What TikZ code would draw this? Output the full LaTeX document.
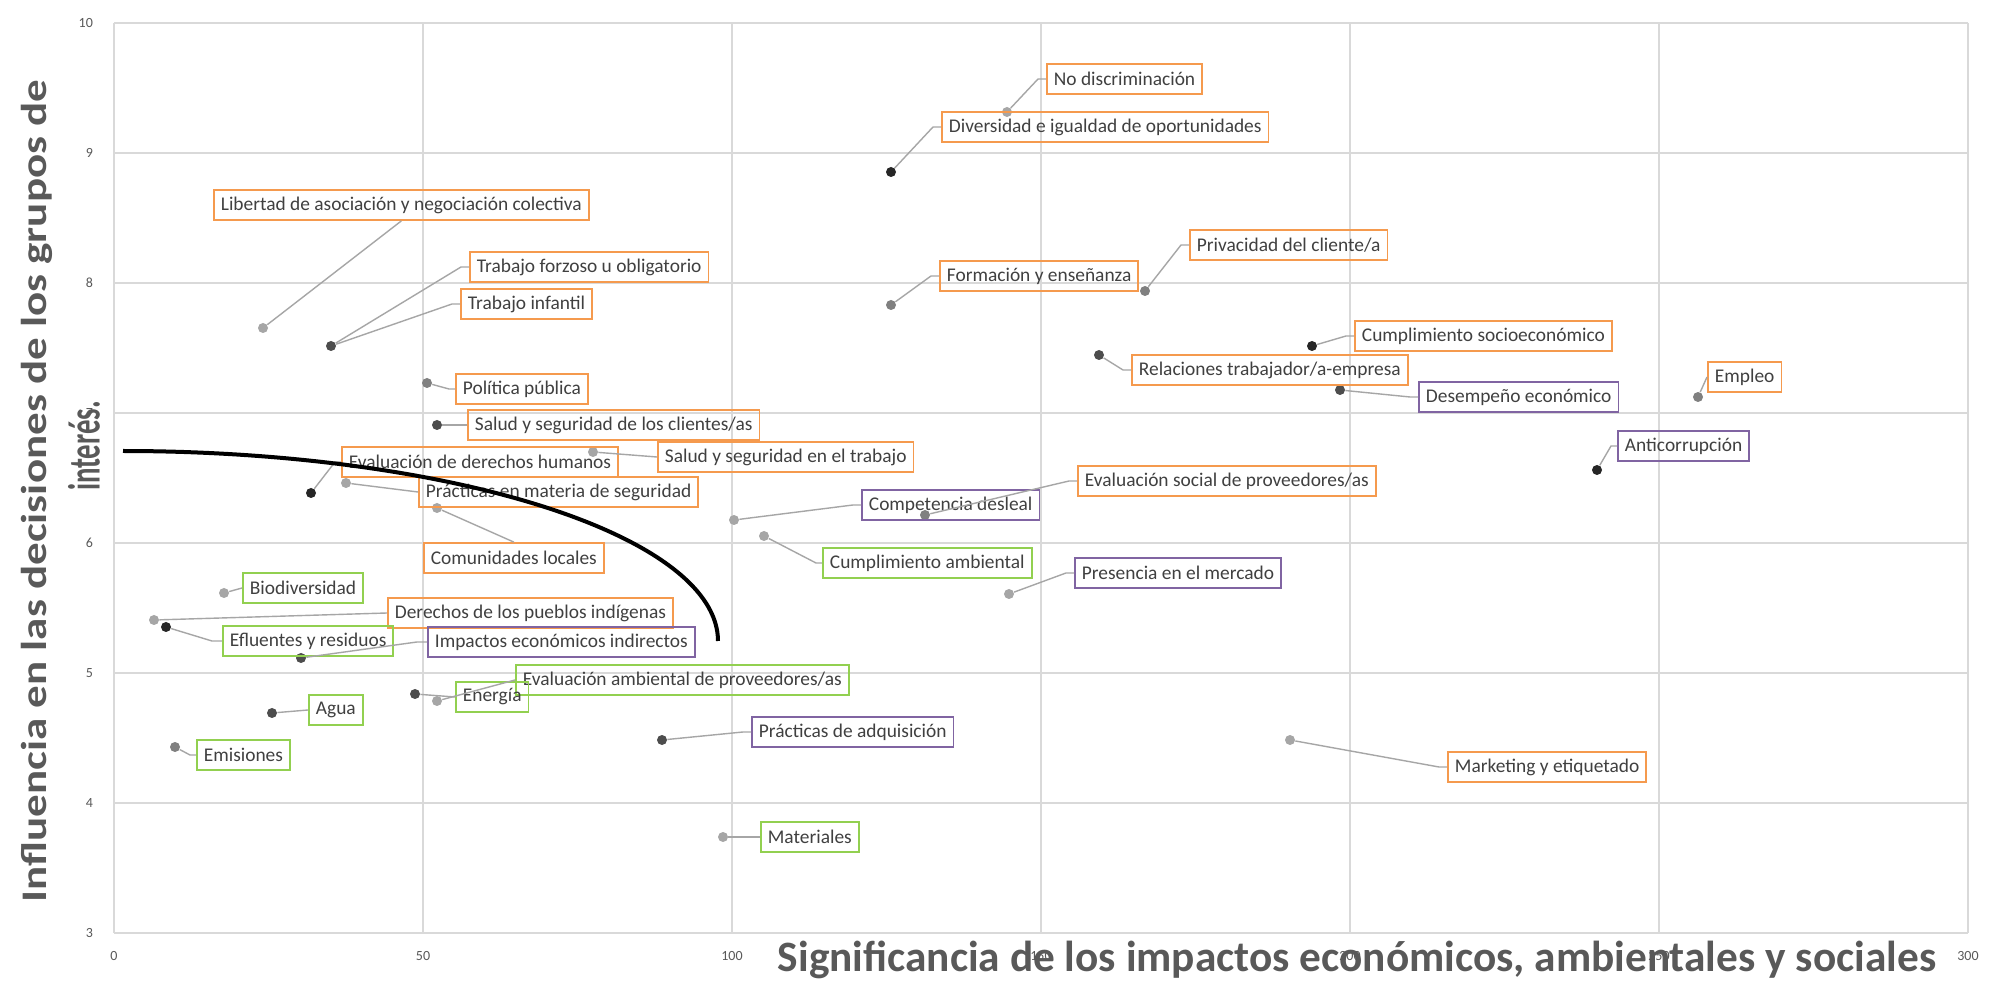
\documentclass[tikz,border=0pt]{standalone}
\usepackage{fontspec}
\setmainfont{Carlito}
\definecolor{lorange}{HTML}{F59A4E}
\definecolor{lgreen}{HTML}{92D050}
\definecolor{lpurple}{HTML}{8064A2}
\definecolor{gridgray}{HTML}{D9D9D9}
\definecolor{leadgray}{HTML}{A6A6A6}
\definecolor{labtext}{HTML}{404040}
\definecolor{titlegray}{HTML}{595959}
\definecolor{dblack}{HTML}{262626}
\definecolor{dgray}{HTML}{4D4D4D}
\definecolor{mgray}{HTML}{808080}
\definecolor{lgray}{HTML}{A6A6A6}
\begin{document}
\begin{tikzpicture}[x=0.5pt,y=-0.5pt,
  gridline/.style={draw=gridgray, line width=0.8pt},
  leader/.style={draw=leadgray, line width=0.7pt},
  lab/.style={anchor=west, draw, line width=0.9pt, font=\fontsize{9.7}{10}\selectfont, text=labtext, inner xsep=3.5pt, inner ysep=0pt, minimum height=15pt},
  org/.style={lab, draw=lorange},
  grn/.style={lab, draw=lgreen},
  pur/.style={lab, draw=lpurple},
  dot/.style={circle, inner sep=0pt, minimum size=5pt},
  tick/.style={font=\fontsize{7}{8}\selectfont, text=titlegray},
  axtitle/.style={font=\fontsize{18}{20}\selectfont\bfseries, text=titlegray}
]
\fill[white] (0,0) rectangle (1991,979);
% grid
\foreach \i in {0,...,6} \draw[gridline] ({114+309*\i},23) -- ({114+309*\i},933);
\foreach \j in {0,...,7} \draw[gridline] (114,{23+130*\j}) -- (1968,{23+130*\j});
% tick labels
\foreach \v [count=\j from 0] in {10,9,8,7,6,5,4,3}
  \node[tick, anchor=east] (yt\v) at (100,{23+130*\j}) {\v};
\foreach \v in {0,50,100,150,200,250,300}
  \node[tick] (xt\v) at ({114+6.18*\v},956) {\v};
% points
\node[dot, fill=lgray]  (p1)  at (1007,112) {};
\node[dot, fill=dblack] (p2)  at (891,172) {};
\node[dot, fill=mgray]  (p3)  at (891,305) {};
\node[dot, fill=mgray]  (p4)  at (1145,291) {};
\node[dot, fill=dblack] (p5)  at (1312,346) {};
\node[dot, fill=dgray]  (p6)  at (1099,355) {};
\node[dot, fill=dgray]  (p7)  at (1340,390) {};
\node[dot, fill=mgray]  (p8)  at (1698,397) {};
\node[dot, fill=dblack] (p9)  at (1597,470) {};
\node[dot, fill=mgray]  (p10) at (925,515) {};
\node[dot, fill=lgray]  (p11) at (734,520) {};
\node[dot, fill=lgray]  (p12) at (764,536) {};
\node[dot, fill=lgray]  (p13) at (1009,594) {};
\node[dot, fill=lgray]  (p14) at (1290,740) {};
\node[dot, fill=dgray]  (p15) at (662,740) {};
\node[dot, fill=lgray]  (p16) at (723,837) {};
\node[dot, fill=lgray]  (p17) at (437,701) {};
\node[dot, fill=dgray]  (p18) at (415,694) {};
\node[dot, fill=dgray]  (p19) at (272,713) {};
\node[dot, fill=mgray]  (p20) at (175,747) {};
\node[dot, fill=lgray]  (p21) at (224,593) {};
\node[dot, fill=lgray]  (p22) at (154,620) {};
\node[dot, fill=dblack] (p23) at (166,627) {};
\node[dot, fill=dgray]  (p24) at (301,658) {};
\node[dot, fill=lgray]  (p25) at (437,508) {};
\node[dot, fill=lgray]  (p26) at (346,483) {};
\node[dot, fill=dblack] (p27) at (311,493) {};
\node[dot, fill=lgray]  (p28) at (593,452) {};
\node[dot, fill=dgray]  (p29) at (437,425) {};
\node[dot, fill=mgray]  (p30) at (427,383) {};
\node[dot, fill=dgray]  (p31) at (331,346) {};
\node[dot, fill=lgray]  (p33) at (263,328) {};
% labels
\node[org] (l1)  at (1046,79)  {No discriminación};
\node[org] (l2)  at (941,127)  {Diversidad e igualdad de oportunidades};
\node[org] (l3)  at (939,276)  {Formación y enseñanza};
\node[org] (l4)  at (1189,245) {Privacidad del cliente/a};
\node[org] (l5)  at (1354,336) {Cumplimiento socioeconómico};
\node[org] (l6)  at (1131,370) {Relaciones trabajador/a-empresa};
\node[pur] (l7)  at (1418,397) {Desempeño económico};
\node[org] (l8)  at (1707,377) {Empleo};
\node[pur] (l9)  at (1617,446) {Anticorrupción};
\node[org] (l10) at (1077,481) {Evaluación social de proveedores/as};
\node[pur] (l11) at (861,505)  {Competencia desleal};
\node[grn] (l12) at (822,563)  {Cumplimiento ambiental};
\node[pur] (l13) at (1074,573) {Presencia en el mercado};
\node[org] (l14) at (1447,767) {Marketing y etiquetado};
\node[pur] (l15) at (751,732)  {Prácticas de adquisición};
\node[grn] (l16) at (760,837)  {Materiales};
\node[grn] (l17) at (515,680)  {Evaluación ambiental de proveedores/as};
\node[grn] (l18) at (455,697)  {Energía};
\node[grn] (l19) at (308,710)  {Agua};
\node[grn] (l20) at (196,755)  {Emisiones};
\node[grn] (l21) at (242,588)  {Biodiversidad};
\node[org] (l22) at (387,613)  {Derechos de los pueblos indígenas};
\node[grn] (l23) at (222,641)  {Efluentes y residuos};
\node[pur] (l24) at (427,642)  {Impactos económicos indirectos};
\node[org] (l25) at (423,558)  {Comunidades locales};
\node[org] (l26) at (418,492)  {Prácticas en materia de seguridad};
\node[org] (l27) at (341,462)  {Evaluación de derechos humanos};
\node[org] (l28) at (657,457)  {Salud y seguridad en el trabajo};
\node[org] (l29) at (467,425)  {Salud y seguridad de los clientes/as};
\node[org] (l30) at (455,389)  {Política pública};
\node[org] (l31) at (460,304)  {Trabajo infantil};
\node[org] (l32) at (469,267)  {Trabajo forzoso u obligatorio};
\node[org] (l33) at (213,205)  {Libertad de asociación y negociación colectiva};
% leaders
\draw[leader] (l1.west) -- ++(-8,0) -- (p1);
\draw[leader] (l2.west) -- ++(-8,0) -- (p2);
\draw[leader] (l3.west) -- ++(-8,0) -- (p3);
\draw[leader] (l4.west) -- ++(-8,0) -- (p4);
\draw[leader] (l5.west) -- ++(-8,0) -- (p5);
\draw[leader] (l6.west) -- ++(-8,0) -- (p6);
\draw[leader] (l7.west) -- ++(-8,0) -- (p7);
\draw[leader] (l8.west) -- (p8);
\draw[leader] (l9.west) -- ++(-6,0) -- (p9);
\draw[leader] (l10.west) -- ++(-8,0) -- (p10);
\draw[leader] (l11.west) -- ++(-8,0) -- (p11);
\draw[leader] (l12.west) -- ++(-6,0) -- (p12);
\draw[leader] (l13.west) -- ++(-8,0) -- (p13);
\draw[leader] (l14.west) -- ++(-8,0) -- (p14);
\draw[leader] (l15.west) -- ++(-8,0) -- (p15);
\draw[leader] (l16.west) -- (p16);
\draw[leader] (l17.west) -- (p17);
\draw[leader] (l18.west) -- (p18);
\draw[leader] (l19.west) -- (p19);
\draw[leader] (l20.west) -- ++(-6,0) -- (p20);
\draw[leader] (l21.west) -- (p21);
\draw[leader] (l22.west) -- (p22);
\draw[leader] (l23.west) -- ++(-10,0) -- (p23);
\draw[leader] (l24.west) -- ++(-10,0) -- (p24);
\draw[leader] (l25.north) -- (p25);
\draw[leader] (l26.west) -- (p26);
\draw[leader] (l27.west) -- ++(-6,0) -- (p27);
\draw[leader] (l28.west) -- (p28);
\draw[leader] (l29.west) -- (p29);
\draw[leader] (l30.west) -- ++(-6,0) -- (p30);
\draw[leader] (l31.west) -- ++(-8,0) -- (p31);
\draw[leader] (l32.west) -- ++(-8,0) -- (p31);
\draw[leader] (l33.south) -- (p33);
% axis titles
\node[axtitle] (xtitle) at (1357,960) {\resizebox{579pt}{!}{Significancia de los impactos económicos, ambientales y sociales}};
\node[axtitle, rotate=90] (ytitle1) at (37,491) {\scalebox{1.25}[1]{Influencia en las decisiones de los grupos de}};
\node[axtitle, rotate=90] (ytitle2) at (84,446) {\scalebox{0.8}[1.25]{interés.}};
% threshold curve
\draw[line width=2pt, black] plot[domain=270:360, samples=90] ({123+595*cos(\x)},{641+190*sin(\x)});
\end{tikzpicture}
\end{document}
